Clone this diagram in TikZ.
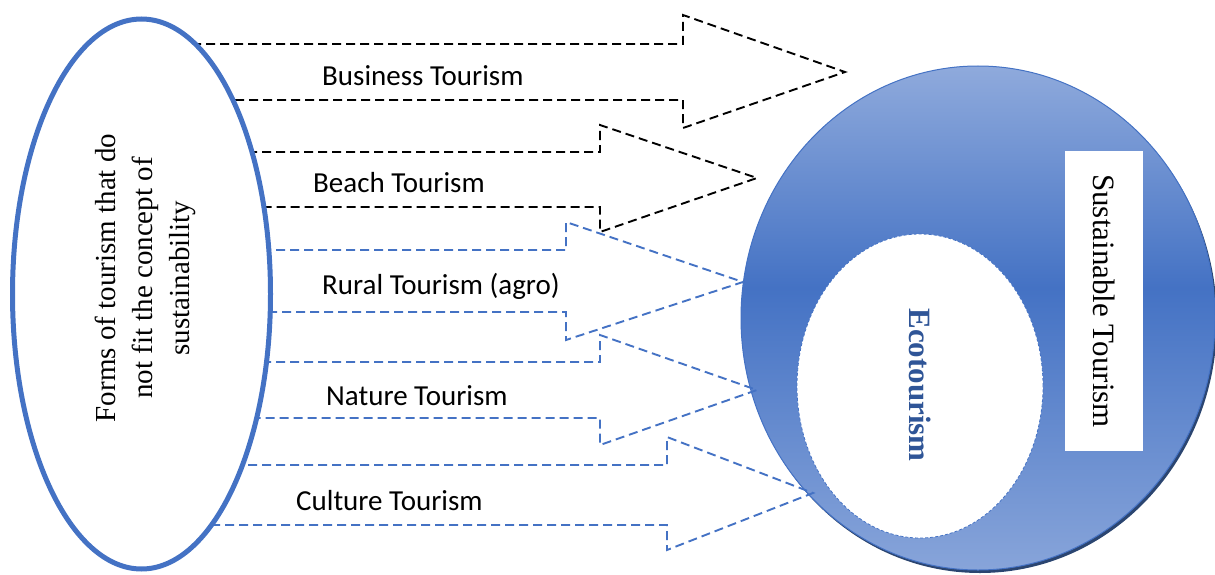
\documentclass[tikz,border=0pt]{standalone}
\usepackage{fontspec}
\setmainfont{Liberation Serif}
\newfontfamily\calibrifont{Carlito}
\usetikzlibrary{shapes.geometric,shadows}
\definecolor{accblue}{HTML}{4472C4}
\definecolor{lightblue}{HTML}{8FAADC}
\definecolor{darkblue}{HTML}{2F5597}
\definecolor{shadowblue}{HTML}{2B4570}
\pgfdeclareverticalshading{ringshade}{100bp}{color(0bp)=(lightblue!90!accblue); color(25bp)=(lightblue!90!accblue); color(53bp)=(accblue); color(75bp)=(lightblue); color(100bp)=(lightblue)}
\tikzset{
  blockarrow/.style={line width=1.9pt, dash pattern=on 9pt off 5pt, line join=miter},
  blackarrow/.style={blockarrow, draw=black},
  bluearrow/.style={blockarrow, draw=accblue},
  arrowlabel/.style={font=\calibrifont\fontsize{29}{35}\selectfont, anchor=base west, inner sep=0pt},
}
\begin{document}
\begin{tikzpicture}[x=1pt,y=-1pt]
\useasboundingbox (0,0) rectangle (1215,575);
\clip (0,0) rectangle (1215,575);
% big ellipse
\node[ellipse, shade, shading=ringshade, draw=accblue, line width=1pt, inner sep=0pt,
  minimum width=474pt, minimum height=504pt,
  drop shadow={shadow xshift=2pt, shadow yshift=-3pt, fill=shadowblue, opacity=1}] (sust) at (978,318) {};
% inner ellipse
\node[ellipse, fill=white, draw=accblue, line width=0.8pt, dash pattern=on 3pt off 2pt, inner sep=0pt,
  minimum width=246pt, minimum height=304pt] (eco) at (920,386) {};
\node[rotate=-90, text=darkblue, font=\fontsize{31}{36}\selectfont\bfseries] (ecotext) at (920,385) {Ecotourism};
% sustainable tourism box
\node[rotate=-90, fill=white, minimum width=300pt, minimum height=78pt, inner sep=0pt,
  font=\fontsize{31}{36}\selectfont] (stbox) at (1104,301) {Sustainable Tourism};
% block arrows
\draw[blackarrow] (150,44) -- (683,44) -- (683,15) -- (845,72) -- (683,128) -- (683,100) -- (150,100);
\draw[blackarrow] (150,152) -- (600,152) -- (600,125) -- (757,178) -- (600,232) -- (600,207) -- (150,207);
\draw[bluearrow] (150,250) -- (566,250) -- (566,222) -- (743,282) -- (566,340) -- (566,312) -- (150,312);
\draw[bluearrow] (150,362) -- (600,362) -- (600,335) -- (757,390) -- (600,445) -- (600,418) -- (150,418);
\draw[bluearrow] (150,465) -- (667,465) -- (667,437) -- (813,493) -- (667,550) -- (667,525) -- (150,525);
% labels
\node[arrowlabel] (lbus) at (322,86) {Business Tourism};
\node[arrowlabel] (lbea) at (313,192) {Beach Tourism};
\node[arrowlabel] (lrur) at (322,294) {Rural Tourism (agro)};
\node[arrowlabel] (lnat) at (326,405) {Nature Tourism};
\node[arrowlabel] (lcul) at (296,510) {Culture Tourism};
% left ellipse
\node[ellipse, draw=accblue, line width=5pt, fill=white, inner sep=0pt,
  minimum width=258pt, minimum height=550pt] (forms) at (141.5,294) {};
\node[rotate=90, align=center, font=\fontsize{29}{37}\selectfont] (formstext) at (145,278)
  {Forms of tourism that do\\not fit the concept of\\sustainability};
\end{tikzpicture}
\end{document}
